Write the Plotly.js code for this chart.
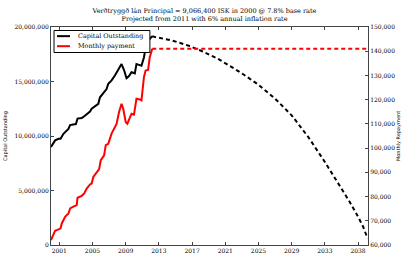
<!DOCTYPE html>
<html>
<head>
<meta charset="utf-8">
<script src="https://cdn.plot.ly/plotly-3.0.1.min.js"></script>
<style>html,body{margin:0;padding:0;background:#fff;}#chart{width:409px;height:273px;}</style>
</head>
<body>
<div id="chart"></div>
<script>
// Historical capital outstanding (ISK)
const capYears = [2000.0, 2000.5, 2000.9, 2001.15, 2001.5, 2001.9, 2002.1, 2002.3, 2002.7, 2003.0, 2003.2, 2003.7, 2003.9, 2004.3, 2004.7, 2004.9, 2005.3, 2005.7, 2005.9, 2006.3, 2006.7, 2006.9, 2007.3, 2007.7, 2008.0, 2008.5, 2008.8, 2009.1, 2009.4, 2009.7, 2010.1, 2010.3, 2010.7, 2010.9, 2011.2, 2011.4, 2011.7, 2012.0, 2012.2];
const capValues = [9.0e6, 9.6e6, 9.75e6, 9.75e6, 10.2e6, 10.5e6, 10.65e6, 11.0e6, 11.05e6, 11.1e6, 11.6e6, 11.65e6, 11.75e6, 12.0e6, 12.25e6, 12.5e6, 12.7e6, 12.95e6, 13.55e6, 13.9e6, 14.3e6, 14.8e6, 15.1e6, 15.55e6, 16.0e6, 16.6e6, 16.05e6, 15.3e6, 15.5e6, 15.85e6, 15.75e6, 16.6e6, 16.5e6, 16.45e6, 17.2e6, 18.1e6, 18.75e6, 18.96e6, 19.15e6];
// Projected capital outstanding
const projCapYears = [2012.2, 2012.6, 2014.5, 2016.5, 2018.3, 2020.1, 2021.5, 2023.0, 2025.0, 2027.0, 2029.0, 2031.0, 2033.0, 2035.0, 2036.0, 2037.0, 2037.6, 2038.15];
const projCapValues = [19.15e6, 19.07e6, 18.78e6, 18.31e6, 17.75e6, 17.09e6, 16.45e6, 15.75e6, 14.7e6, 13.43e6, 11.9e6, 9.91e6, 7.62e6, 5.19e6, 3.95e6, 2.6e6, 1.7e6, 0.6e6];
// Historical monthly payment (ISK)
const payYears = [2000.0, 2000.2, 2000.5, 2000.9, 2001.15, 2001.3, 2001.7, 2002.1, 2002.3, 2002.7, 2003.1, 2003.2, 2003.7, 2004.0, 2004.3, 2004.7, 2004.9, 2005.1, 2005.5, 2005.8, 2006.0, 2006.4, 2006.6, 2006.9, 2007.3, 2007.7, 2007.9, 2008.2, 2008.5, 2008.7, 2009.0, 2009.2, 2009.5, 2009.7, 2010.0, 2010.3, 2010.7, 2010.9, 2011.2, 2011.4, 2011.7, 2011.9, 2012.2];
const payValues = [62060, 63400, 65900, 66450, 66860, 68900, 71660, 73000, 75100, 75800, 76500, 79500, 80300, 81300, 83300, 85000, 85400, 88100, 89800, 91300, 95000, 97000, 101200, 101800, 106000, 109000, 110000, 114900, 118300, 116300, 110800, 110100, 112800, 114200, 113800, 120400, 120100, 119700, 129300, 132000, 132300, 137500, 141000];
// Projected monthly payment
const projPayYears = [2012.2, 2038.2];
const projPayValues = [141000, 141000];
// Axis ticks
const xTickVals = [2001, 2005, 2009, 2013, 2017, 2021, 2025, 2029, 2033, 2037];
const xTickText = ['2001', '2005', '2009', '2013', '2017', '2021', '2025', '2029', '2033', '2038'];
const yTickVals = [0, 5e6, 10e6, 15e6, 20e6];
const y2TickVals = [60000, 70000, 80000, 90000, 100000, 110000, 120000, 130000, 140000, 150000];
const legendNames = ['Capital Outstanding', 'Monthly payment'];
const legendColors = ['#000000', '#ff0000'];

const serif = 'DejaVu Serif, serif';
const traces = [
  {x: capYears, y: capValues, type: 'scatter', mode: 'lines', name: legendNames[0],
   line: {color: legendColors[0], width: 2}, yaxis: 'y'},
  {x: payYears, y: payValues, type: 'scatter', mode: 'lines', name: legendNames[1],
   line: {color: legendColors[1], width: 2}, yaxis: 'y2'},
  {x: projCapYears, y: projCapValues, type: 'scatter', mode: 'lines',
   line: {color: '#000000', width: 2, dash: '4px,3px'}, yaxis: 'y'},
  {x: projPayYears, y: projPayValues, type: 'scatter', mode: 'lines',
   line: {color: '#ff0000', width: 2, dash: '4px,3px'}, yaxis: 'y2'}
];

// Legend drawn as a framed box (matplotlib style)
const legRowY = [0.958, 0.912];
const shapes = [
  {type: 'rect', xref: 'paper', yref: 'paper', x0: 0.0095, x1: 0.312, y0: 0.883, y1: 0.984,
   line: {color: '#000', width: 1}, fillcolor: '#fff', layer: 'above'}
];
const annotations = [];
legendNames.forEach((n, i) => {
  shapes.push({type: 'line', xref: 'paper', yref: 'paper', x0: 0.019, x1: 0.060, y0: legRowY[i], y1: legRowY[i],
               line: {color: legendColors[i], width: 2}, layer: 'above'});
  annotations.push({xref: 'paper', yref: 'paper', x: 0.079, y: legRowY[i], xanchor: 'left', yanchor: 'middle',
                    text: n, showarrow: false, font: {family: serif, size: 6.4, color: '#000'}});
});

const layout = {
  width: 409, height: 273,
  margin: {l: 51, r: 41, t: 27, b: 28, pad: 0},
  paper_bgcolor: '#ffffff', plot_bgcolor: '#ffffff',
  font: {family: serif, size: 6, color: '#000'},
  title: {text: 'Verðtryggð lán Principal = 9,066,400 ISK in 2000 @ 7.8% base rate<br>Projected from 2011 with 6% annual inflation rate',
          font: {family: serif, size: 6.5, color: '#000'}, x: 0.5, xanchor: 'center',
          yref: 'container', y: 1 - 13 / 273, yanchor: 'middle'},
  showlegend: false,
  shapes: shapes,
  annotations: annotations,
  xaxis: {range: [2000.0, 2038.2], tickvals: xTickVals, ticktext: xTickText, showgrid: false, zeroline: false,
          showline: true, linecolor: '#444', linewidth: 1, mirror: 'ticks', ticks: 'inside', ticklen: 3,
          tickcolor: '#444', tickfont: {family: serif, size: 6}},
  yaxis: {range: [0, 20e6], tickvals: yTickVals, tickformat: ',', showgrid: false, zeroline: false,
          showline: true, linecolor: '#444', linewidth: 1, ticks: 'inside', ticklen: 3, tickcolor: '#444',
          tickfont: {family: serif, size: 6},
          title: {text: 'Capital Outstanding', font: {family: 'DejaVu Sans, sans-serif', size: 5}, standoff: 6}},
  yaxis2: {range: [60000, 150000], tickvals: y2TickVals, tickformat: ',', overlaying: 'y', side: 'right',
           showgrid: false, zeroline: false, showline: true, linecolor: '#444', linewidth: 1,
           ticks: 'inside', ticklen: 3, tickcolor: '#444', tickfont: {family: serif, size: 6},
           title: {text: 'Monthly Repayment', font: {family: 'DejaVu Sans, sans-serif', size: 5}, standoff: 2}}
};
Plotly.newPlot('chart', traces, layout, {displayModeBar: false, staticPlot: true});
</script>
</body>
</html>
